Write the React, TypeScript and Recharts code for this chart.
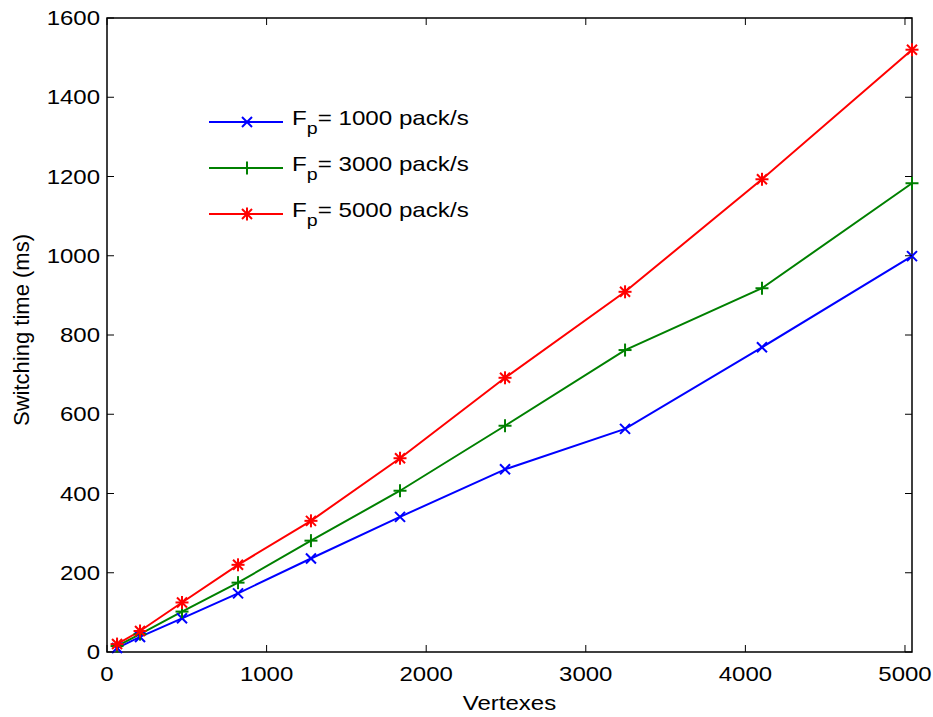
import { Legend, Line, LineChart, ReferenceArea, XAxis, YAxis } from "recharts";

const vertexes = [63, 207, 470, 821, 1278, 1836, 2494, 3246, 4104, 5044];
const fp1000 = [10, 38, 85, 148, 236, 341, 461, 563, 769, 999];
const fp3000 = [15, 45, 102, 175, 281, 407, 571, 762, 918, 1183];
const fp5000 = [20, 53, 125, 220, 331, 489, 692, 909, 1193, 1520];
const xTicks = [0, 1000, 2000, 3000, 4000, 5000];
const yTicks = [0, 200, 400, 600, 800, 1000, 1200, 1400, 1600];

const data = vertexes.map((v, i) => ({
  v,
  a: fp1000[i],
  b: fp3000[i],
  c: fp5000[i],
}));

const series = [
  { key: "a", rate: "1000", color: "#0000ff", mark: "x" },
  { key: "b", rate: "3000", color: "#008000", mark: "+" },
  { key: "c", rate: "5000", color: "#ff0000", mark: "*" },
];

// plot box (chart sits at page origin)
const LEFT = 107;
const RIGHT = 912;
const TOP = 18;
const BOTTOM = 652;
const FONT = "'Liberation Sans', Arial, sans-serif";

function Marker({ cx, cy, color, mark }: any) {
  if (cx == null || cy == null) return null;
  const d = 5;
  const p = 6.5;
  return (
    <g stroke={color} strokeWidth={2} fill="none">
      {(mark === "x" || mark === "*") && (
        <>
          <line x1={cx - d} y1={cy - d} x2={cx + d} y2={cy + d} />
          <line x1={cx - d} y1={cy + d} x2={cx + d} y2={cy - d} />
        </>
      )}
      {(mark === "+" || mark === "*") && (
        <>
          <line x1={cx - p} y1={cy} x2={cx + p} y2={cy} />
          <line x1={cx} y1={cy - p} x2={cx} y2={cy + p} />
        </>
      )}
    </g>
  );
}

function XTick({ x, y, payload }: any) {
  return (
    <g>
      <line x1={x} y1={BOTTOM} x2={x} y2={BOTTOM - 7} stroke="#000" />
      <line x1={x} y1={TOP} x2={x} y2={TOP + 7} stroke="#000" />
      <g transform={`translate(${x},${y + 29}) scale(1.2,1)`}>
        <text textAnchor="middle" fontSize={20} fontFamily={FONT} fill="#000">
          {payload.value}
        </text>
      </g>
    </g>
  );
}

function YTick({ x, y, payload }: any) {
  return (
    <g>
      <line x1={LEFT} y1={y} x2={LEFT + 7} y2={y} stroke="#000" />
      <line x1={RIGHT} y1={y} x2={RIGHT - 7} y2={y} stroke="#000" />
      <g transform={`translate(${x - 7},${y + 7}) scale(1.2,1)`}>
        <text textAnchor="end" fontSize={20} fontFamily={FONT} fill="#000">
          {payload.value}
        </text>
      </g>
    </g>
  );
}

function LegendBox() {
  return (
    <div style={{ fontFamily: FONT, color: "#000" }}>
      {series.map((s) => (
        <div
          key={s.key}
          style={{ display: "flex", alignItems: "center", height: 46 }}
        >
          <svg width={83} height={46}>
            <line x1={0} y1={23} x2={74} y2={23} stroke={s.color} strokeWidth={2} />
            <Marker cx={38} cy={23} color={s.color} mark={s.mark} />
          </svg>
          <span
            style={{
              display: "inline-block",
              fontSize: 21,
              transform: "scaleX(1.15)",
              transformOrigin: "left center",
              whiteSpace: "nowrap",
              marginTop: -8,
            }}
          >
            F
            <span style={{ fontSize: 17, position: "relative", top: 9 }}>p</span>= {s.rate} pack/s
          </span>
        </div>
      ))}
    </div>
  );
}

export default function App() {
  return (
    <div style={{ position: "absolute", left: 0, top: 0, background: "#fff" }}>
      <LineChart
        width={933}
        height={717}
        data={data}
        margin={{ top: TOP, right: 933 - RIGHT, left: 0, bottom: 0 }}
      >
        <XAxis
          dataKey="v"
          type="number"
          domain={[0, 5044]}
          ticks={xTicks}
          axisLine={false}
          tickLine={false}
          tickSize={0}
          tickMargin={0}
          height={717 - BOTTOM}
          tick={<XTick />}
        />
        <YAxis
          type="number"
          domain={[0, 1600]}
          ticks={yTicks}
          axisLine={false}
          tickLine={false}
          tickSize={0}
          tickMargin={0}
          width={LEFT}
          tick={<YTick />}
        />
        <ReferenceArea
          x1={0}
          x2={5044}
          y1={0}
          y2={1600}
          fill="none"
          stroke="#000"
          strokeWidth={1.5}
        />
        {series.map((s) => (
          <Line
            key={s.key}
            dataKey={s.key}
            stroke={s.color}
            strokeWidth={2}
            isAnimationActive={false}
            dot={(p: any) => (
              <Marker key={p.key ?? p.index} cx={p.cx} cy={p.cy} color={s.color} mark={s.mark} />
            )}
            activeDot={false}
          />
        ))}
        <Legend
          layout="vertical"
          align="center"
          verticalAlign="middle"
          wrapperStyle={{ left: 209, top: 99, width: "auto" }}
          content={<LegendBox />}
        />
        <g transform={`translate(${(LEFT + RIGHT) / 2},710) scale(1.2,1)`}>
          <text textAnchor="middle" fontSize={20} fontFamily={FONT} fill="#000">
            Vertexes
          </text>
        </g>
        <text
          transform="translate(29,330) rotate(-90)"
          textAnchor="middle"
          fontSize={22}
          fontFamily={FONT}
          fill="#000"
        >
          Switching time (ms)
        </text>
      </LineChart>
    </div>
  );
}
